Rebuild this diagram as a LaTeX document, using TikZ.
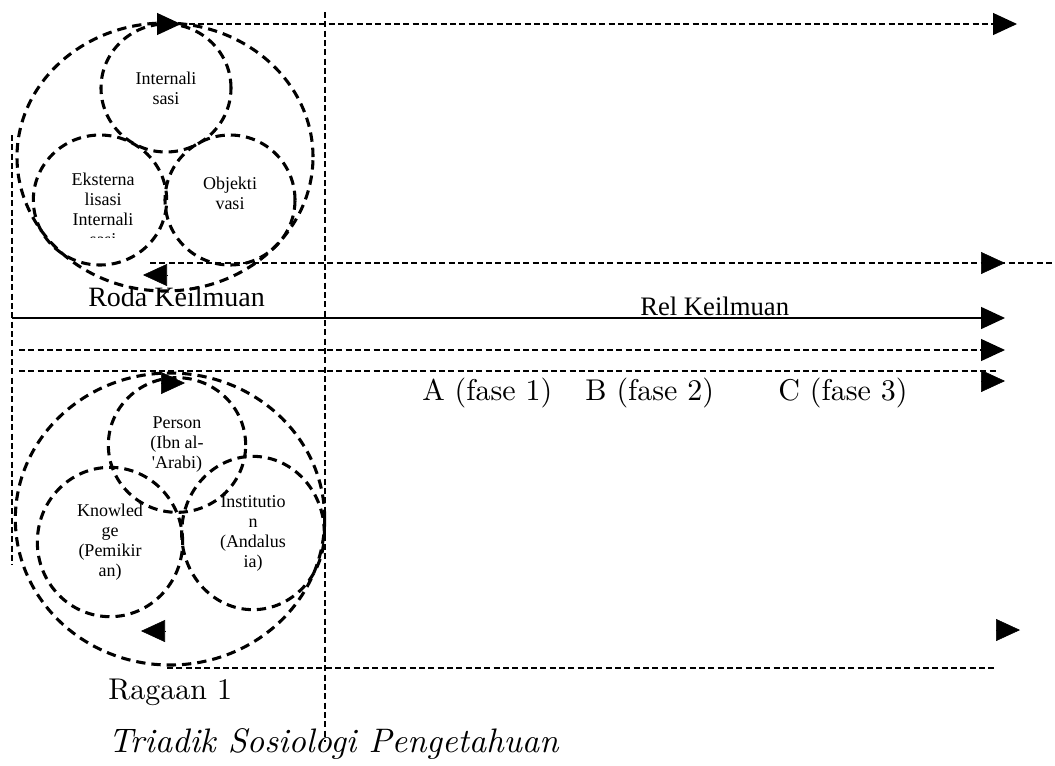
\documentclass[tikz,border=0pt]{standalone}
\usepackage{fontspec}
\newfontfamily\timesfont{Liberation Serif}
\newfontfamily\bodyfont{lmroman10}[Extension=.otf, UprightFont=*-regular, ItalicFont=*-italic]
\usetikzlibrary{arrows.meta,shapes.geometric}

\tikzset{
  ring/.style={draw, ellipse, inner sep=0pt, line width=2.3pt,
    dash pattern=on 7pt off 4.5pt, align=center,
    font=\timesfont\fontsize{13.5}{15}\selectfont},
  ringtext/.style={align=center, inner sep=0pt,
    font=\timesfont\fontsize{13.5}{15}\selectfont},
  rail/.style={line width=0.9pt, dash pattern=on 4.5pt off 2.5pt},
  head/.style={-{Triangle[length=18pt,width=16.5pt]}},
  backhead/.style={{Triangle[length=18pt,width=16.5pt,reversed]}-{Triangle[length=18pt,width=16.5pt]}},
  txt/.style={anchor=base west, inner sep=0pt},
}

\begin{document}
\begin{tikzpicture}[x=0.75pt,y=-0.75pt]
\useasboundingbox (0,0) rectangle (1055,765);

% Roda Keilmuan (upper wheel)
\node[ring, minimum width=222pt, minimum height=201pt] (rodaOuter) at (165,157) {};
\node[ring, minimum width=97.5pt, minimum height=96pt] (intern) at (166,88) {Internali\\sasi};
\node[ring, minimum width=100pt, minimum height=97.5pt] (ekster) at (100,200) {};
\node[ring, minimum width=97.5pt, minimum height=97.5pt] (objek) at (230,200) {};
\node[ringtext] (objekText) at (230,193) {Objekti\\vasi};
\begin{scope}
  \clip (0,0) rectangle (330,237);
  \node[ringtext] (eksterText) at (103,209) {Eksterna\\lisasi\\Internali\\sasi};
\end{scope}

% Triadik (lower wheel)
\node[ring, minimum width=232pt, minimum height=219pt] (triOuter) at (170,519) {};
\node[ring, minimum width=103pt, minimum height=101pt] (person) at (177,445) {Person\\(Ibn al-\\'Arabi)};
\node[ring, minimum width=109pt, minimum height=112pt] (knowledge) at (110,542) {Knowled\\ge\\(Pemikir\\an)};
\node[ring, minimum width=107pt, minimum height=115pt] (institution) at (253,533) {Institutio\\n\\(Andalus\\ia)};

% frame lines
\coordinate (vTop) at (325,12);
\coordinate (vBot) at (325,742);
\coordinate (lTop) at (12,135);
\coordinate (lBot) at (12,565);
\draw[rail] (vTop) -- (vBot);
\draw[rail] (lTop) -- (lBot);

% rails with arrows
\coordinate (r1s) at (157,24);   \coordinate (r1e) at (1017,24);
\coordinate (r2s) at (150,263);  \coordinate (r2e) at (1055,263);
\coordinate (r2h) at (1005,263);
\coordinate (r3s) at (12,318);   \coordinate (r3e) at (1005,318);
\coordinate (r4s) at (19,350);   \coordinate (r4e) at (1005,350);
\coordinate (r5s) at (19,371);   \coordinate (r5e) at (997,371);
\coordinate (r6s) at (167,668);  \coordinate (r6e) at (997,668);

\draw[rail, backhead] (r1s) -- (r1e);
\draw[rail] (r2s) -- (r2e);
\draw[head] ([xshift=-18pt]r2h) -- (r2h);
\draw[line width=1.1pt, head] (r3s) -- (r3e);
\draw[rail, head] (r4s) -- (r4e);
\draw[rail] (r5s) -- (r5e);
\draw[rail] (r6s) -- (r6e);

% loose arrow heads
\coordinate (h1) at (1005,381);
\coordinate (h2) at (1020,630);
\coordinate (h3) at (143,275);
\coordinate (h4) at (185,383);
\coordinate (h5) at (141,631);
\draw[head] ([xshift=-18pt]h1) -- (h1);
\draw[head] ([xshift=-18pt]h2) -- (h2);
\draw[head] ([xshift=18pt]h3) -- (h3);
\draw[head] ([xshift=-18pt]h4) -- (h4);
\draw[head] ([xshift=18pt]h5) -- (h5);

% labels
\node[txt, font=\timesfont\fontsize{21}{24}\selectfont] (roda) at (88,306) {Roda Keilmuan};
\node[txt, font=\timesfont\fontsize{20}{24}\selectfont] (rel) at (640,315) {Rel Keilmuan};
\node[txt, font=\bodyfont\fontsize{22.5}{27}\selectfont] (faseA) at (422,400) {A (fase 1)};
\node[txt, font=\bodyfont\fontsize{22.5}{27}\selectfont] (faseB) at (585,400) {B (fase 2)};
\node[txt, font=\bodyfont\fontsize{22.5}{27}\selectfont] (faseC) at (778,400) {C (fase 3)};
\node[txt, font=\bodyfont\fontsize{22.5}{28}\selectfont] (ragaan) at (108,699) {Ragaan 1};
\node[txt, font=\bodyfont\itshape\fontsize{25.5}{28}\selectfont] (triadik) at (108,752) {Triadik Sosiologi Pengetahuan};
\end{tikzpicture}
\end{document}
